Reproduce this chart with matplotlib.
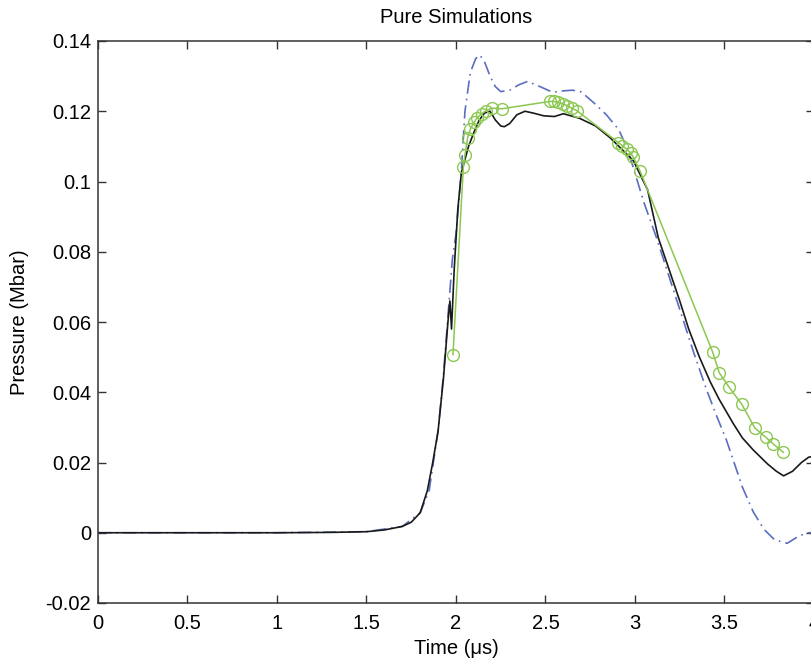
import matplotlib
matplotlib.use("Agg")
import matplotlib.pyplot as plt

# black solid curve
t_black = [0, 0.5, 1.0, 1.3, 1.5, 1.6, 1.7, 1.75, 1.8, 1.84, 1.87, 1.9, 1.93,
           1.955, 1.966, 1.975, 1.99, 2.01, 2.03, 2.07, 2.1, 2.13, 2.16, 2.19,
           2.22, 2.25, 2.27, 2.3, 2.34, 2.385, 2.43, 2.49, 2.55, 2.6, 2.69,
           2.78, 2.86, 2.93, 2.99, 3.07, 3.13, 3.19, 3.25, 3.3, 3.36, 3.42,
           3.47, 3.55, 3.6, 3.66, 3.74, 3.79, 3.83, 3.88, 3.93, 3.97, 4.02]
p_black = [0, 0, 0, 0.0001, 0.0003, 0.0008, 0.0018, 0.003, 0.0057, 0.012, 0.02,
           0.029, 0.044, 0.06, 0.066, 0.058, 0.075, 0.092, 0.1025, 0.11, 0.114,
           0.1175, 0.1195, 0.120, 0.1175, 0.1158, 0.1156, 0.1165, 0.119, 0.120,
           0.1195, 0.1187, 0.1185, 0.1193, 0.118, 0.1158, 0.1125, 0.109, 0.106,
           0.0977, 0.084, 0.075, 0.066, 0.058, 0.050, 0.043, 0.038, 0.031,
           0.027, 0.0236, 0.0196, 0.0175, 0.0162, 0.0175, 0.020, 0.0215, 0.022]

# blue dash-dot curve
t_blue = [0, 1.0, 1.5, 1.7, 1.8, 1.85, 1.9, 1.93, 1.96, 1.98, 2.0, 2.03, 2.05,
          2.08, 2.11, 2.134, 2.16, 2.19, 2.22, 2.25, 2.3, 2.35, 2.4, 2.47,
          2.54, 2.6, 2.65, 2.7, 2.77, 2.84, 2.91, 2.96, 2.99, 3.05, 3.12, 3.19,
          3.26, 3.33, 3.40, 3.45, 3.51, 3.56, 3.60, 3.66, 3.72, 3.78, 3.85,
          3.92, 3.97, 4.02]
p_blue = [0, 0, 0.0003, 0.0018, 0.0057, 0.012, 0.029, 0.045, 0.065, 0.078,
          0.085, 0.103, 0.12, 0.131, 0.135, 0.136, 0.134, 0.13, 0.127, 0.1256,
          0.126, 0.1275, 0.1285, 0.127, 0.1254, 0.1258, 0.126, 0.1255, 0.1224,
          0.119, 0.1147, 0.109, 0.104, 0.094, 0.084, 0.073, 0.062, 0.051,
          0.0407, 0.034, 0.0265, 0.019, 0.013, 0.006, 0.001, -0.002, -0.003,
          -0.0008, 0.0, 0.0]

# green circles
t_green = [1.983, 2.041, 2.05, 2.065, 2.08, 2.10, 2.12, 2.143, 2.167, 2.199,
           2.255, 2.525, 2.547, 2.572, 2.596, 2.62, 2.646, 2.674, 2.907, 2.93,
           2.953, 2.975, 2.99, 3.028, 3.434, 3.471, 3.525, 3.596, 3.67, 3.73,
           3.772, 3.829]
p_green = [0.0507, 0.104, 0.1076, 0.1124, 0.1149, 0.1168, 0.1182, 0.1193,
           0.1201, 0.1209, 0.1207, 0.1228, 0.1228, 0.1225, 0.1221, 0.1216,
           0.1209, 0.1202, 0.1111, 0.1102, 0.1092, 0.1081, 0.107, 0.103,
           0.0514, 0.0455, 0.0415, 0.0366, 0.0298, 0.0272, 0.0253, 0.0229]

x_ticks = [0, 0.5, 1, 1.5, 2, 2.5, 3, 3.5, 4]
x_labels = ["0", "0.5", "1", "1.5", "2", "2.5", "3", "3.5", "4"]
y_ticks = [-0.02, 0, 0.02, 0.04, 0.06, 0.08, 0.1, 0.12, 0.14]
y_labels = ["-0.02", "0", "0.02", "0.04", "0.06", "0.08", "0.1", "0.12", "0.14"]

plt.rcParams['font.family'] = ['Liberation Sans', 'DejaVu Sans']
fs = 14.5

fig = plt.figure(figsize=(8.12, 6.61), dpi=100)
ax = fig.add_axes([98 / 812, 58 / 661, 716 / 812, 562 / 661])

ax.plot(t_blue, p_blue, color='#5b6ec2', linestyle=(0, (8, 3, 1, 3)), linewidth=1.2)
ax.plot(t_black, p_black, color='#1a1a1a', linewidth=1.2)
ax.plot(t_green, p_green, color='#8cc751', linewidth=1.1, marker='o',
        markersize=8.5, markerfacecolor='none', markeredgecolor='#8cc751',
        markeredgewidth=1.0)

ax.set_xlim(0, 4)
ax.set_ylim(-0.02, 0.14)
ax.set_xticks(x_ticks)
ax.set_xticklabels(x_labels)
ax.set_yticks(y_ticks)
ax.set_yticklabels(y_labels)
ax.tick_params(direction='in', length=6, width=1, colors='#333333',
               labelcolor='black', labelsize=fs, top=True, right=True, pad=5)
ax.tick_params(axis='x', pad=8)
for s in ax.spines.values():
    s.set_color('#333333')
    s.set_linewidth(1.1)

ax.set_xlabel('Time (μs)', fontsize=fs)
ax.set_ylabel('Pressure (Mbar)', fontsize=fs)
ax.xaxis.set_label_coords(0.5, -0.064)
ax.yaxis.set_label_coords(-0.097, 0.5)
ax.set_title('Pure Simulations', fontsize=fs, pad=13)

fig.savefig('out.png', dpi=100)
